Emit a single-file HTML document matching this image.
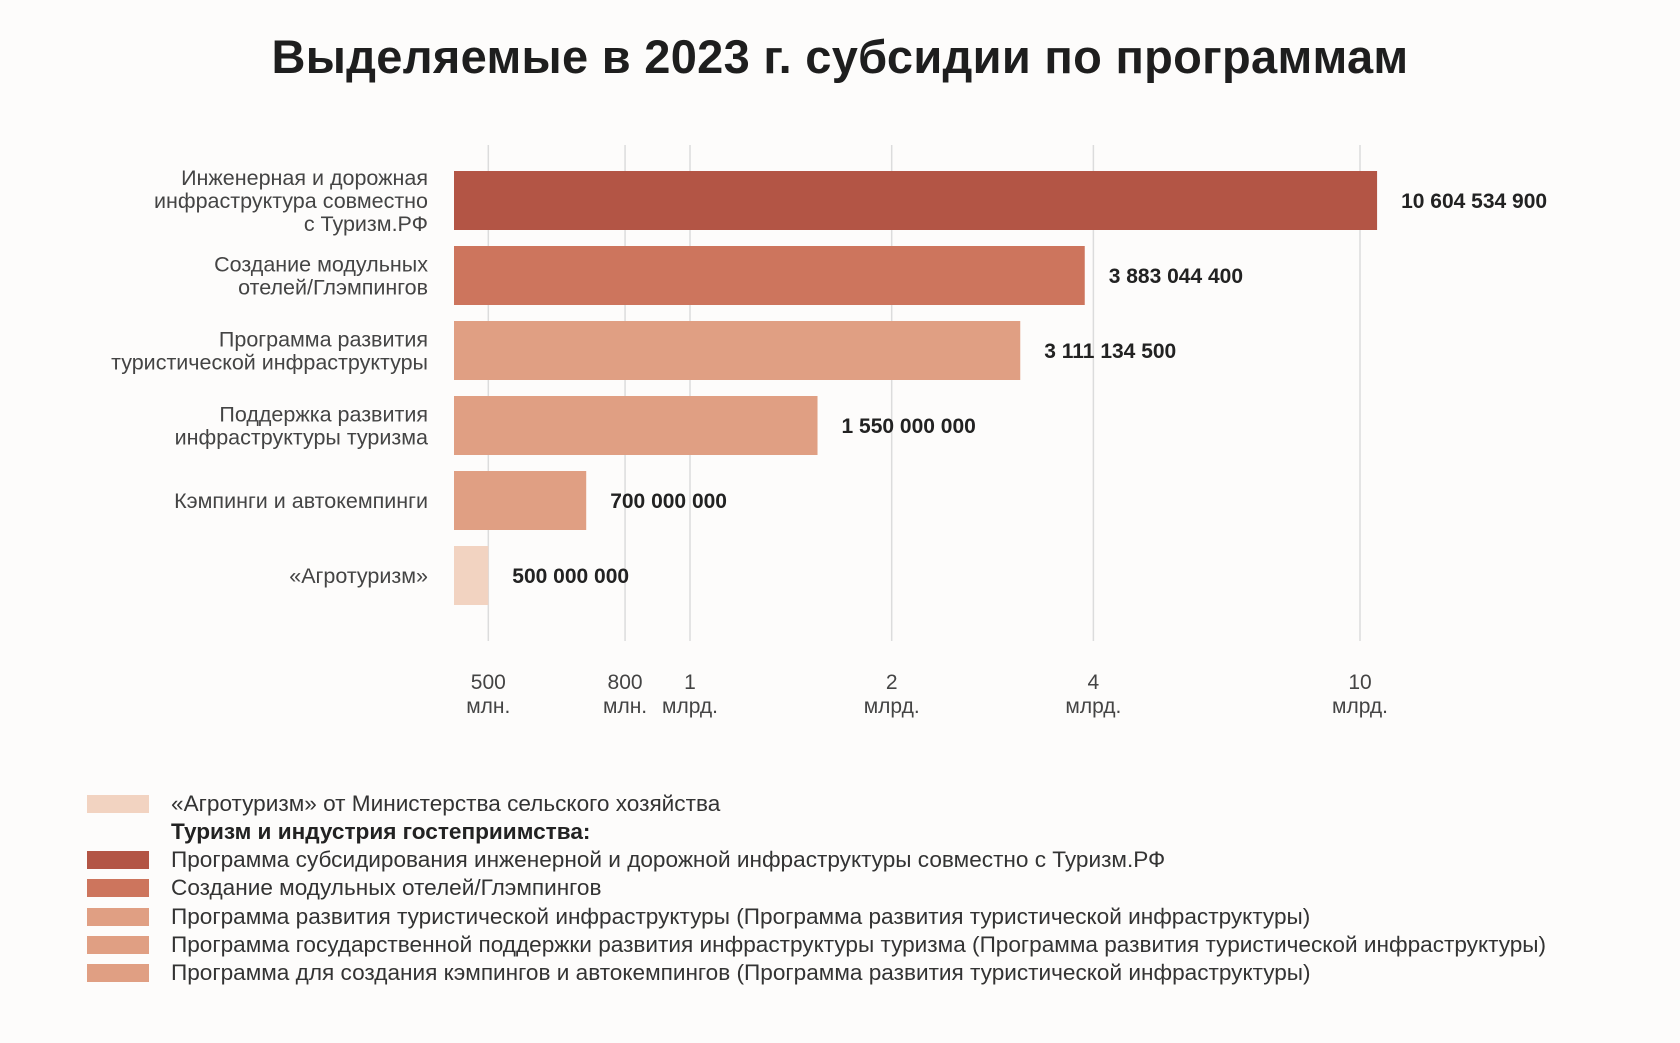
<!DOCTYPE html>
<html><head><meta charset="utf-8">
<style>
html,body{margin:0;padding:0;background:#fdfcfb;}
body{width:1680px;height:1043px;position:relative;overflow:hidden;font-family:"Liberation Sans","DejaVu Sans",sans-serif;}
#title{position:absolute;left:0;width:1680px;top:29px;text-align:center;font-size:47px;font-weight:bold;color:#1e1e1e;letter-spacing:0.3px;}
.leg{position:absolute;left:0;height:28px;}
.sw{position:absolute;left:87px;top:5px;width:62px;height:18px;}
.lt{position:absolute;left:171px;top:0;line-height:28px;font-size:22.6px;color:#333;white-space:nowrap;}
</style></head>
<body>
<div id="title">Выделяемые в 2023 г. субсидии по программам</div>
<svg id="chart" width="1680" height="740" style="position:absolute;left:0;top:0" font-family="Liberation Sans, DejaVu Sans, sans-serif"></svg>
<div id="legend">
 <div class="leg" style="top:790px"><div class="sw" style="background:#f2d3c1"></div><div class="lt">«Агротуризм» от Министерства сельского хозяйства</div></div>
 <div class="leg" style="top:818px"><div class="lt" style="color:#222;font-weight:bold">Туризм и индустрия гостеприимства:</div></div>
 <div class="leg" style="top:846px"><div class="sw" style="background:#b35545"></div><div class="lt">Программа субсидирования инженерной и дорожной инфраструктуры совместно с Туризм.РФ</div></div>
 <div class="leg" style="top:874px"><div class="sw" style="background:#cd755d"></div><div class="lt">Создание модульных отелей/Глэмпингов</div></div>
 <div class="leg" style="top:903px"><div class="sw" style="background:#e09f83"></div><div class="lt">Программа развития туристической инфраструктуры (Программа развития туристической инфраструктуры)</div></div>
 <div class="leg" style="top:931px"><div class="sw" style="background:#e09f83"></div><div class="lt">Программа государственной поддержки развития инфраструктуры туризма (Программа развития туристической инфраструктуры)</div></div>
 <div class="leg" style="top:959px"><div class="sw" style="background:#e09f83"></div><div class="lt">Программа для создания кэмпингов и автокемпингов (Программа развития туристической инфраструктуры)</div></div>
</div>
<script>
const categories = [
  ["Инженерная и дорожная","инфраструктура совместно","с Туризм.РФ"],
  ["Создание модульных","отелей/Глэмпингов"],
  ["Программа развития","туристической инфраструктуры"],
  ["Поддержка развития","инфраструктуры туризма"],
  ["Кэмпинги и автокемпинги"],
  ["«Агротуризм»"]
];
const values = [10604534900, 3883044400, 3111134500, 1550000000, 700000000, 500000000];
const valueLabels = ["10 604 534 900","3 883 044 400","3 111 134 500","1 550 000 000","700 000 000","500 000 000"];
const barColors = ["#b35545","#cd755d","#e09f83","#e09f83","#e09f83","#f2d3c1"];
const tickValues = [5e8, 8e8, 1e9, 2e9, 4e9, 1e10];
const tickNums = ["500","800","1","2","4","10"];
const tickUnits = ["млн.","млн.","млрд.","млрд.","млрд.","млрд."];

const NS = "http://www.w3.org/2000/svg";
const svg = document.getElementById('chart');
const x = v => 690 + 670 * Math.log10(v / 1e9);
const barLeft = 454, barTop0 = 171, barPitch = 75, barH = 59;
const y = i => barTop0 + i * barPitch;
function mk(tag, attrs){const e=document.createElementNS(NS,tag);for(const k in attrs)e.setAttribute(k,attrs[k]);svg.appendChild(e);return e;}

tickValues.forEach((t,i)=>{
  const g = mk('line',{x1:x(t),x2:x(t),y1:145,y2:641,stroke:'#dcdcdc','stroke-width':1.5});
  
  
  const a = mk('text',{x:x(t),y:689,'text-anchor':'middle','font-size':21,fill:'#444'});
  a.textContent = tickNums[i];
  
  
  const b = mk('text',{x:x(t),y:713,'text-anchor':'middle','font-size':21,fill:'#444'});
  b.textContent = tickUnits[i];
  
  
});

values.forEach((v,i)=>{
  const r = mk('rect',{x:barLeft,y:y(i),width:x(v)-barLeft,height:barH,fill:barColors[i]});
  
  
  const cy = y(i) + barH/2;
  const t = mk('text',{x:x(v)+24,y:cy+7.5,'font-size':21,'font-weight':'bold',fill:'#222'});
  t.textContent = valueLabels[i];
  
  
  const lines = categories[i];
  const lh = 23;
  lines.forEach((ln,j)=>{
    const c = mk('text',{x:428,y:cy + (j-(lines.length-1)/2)*lh + 7.5,'text-anchor':'end','font-size':21.5,fill:'#444'});
    c.textContent = ln;
    
    
  });
});
</script>
</body></html>
